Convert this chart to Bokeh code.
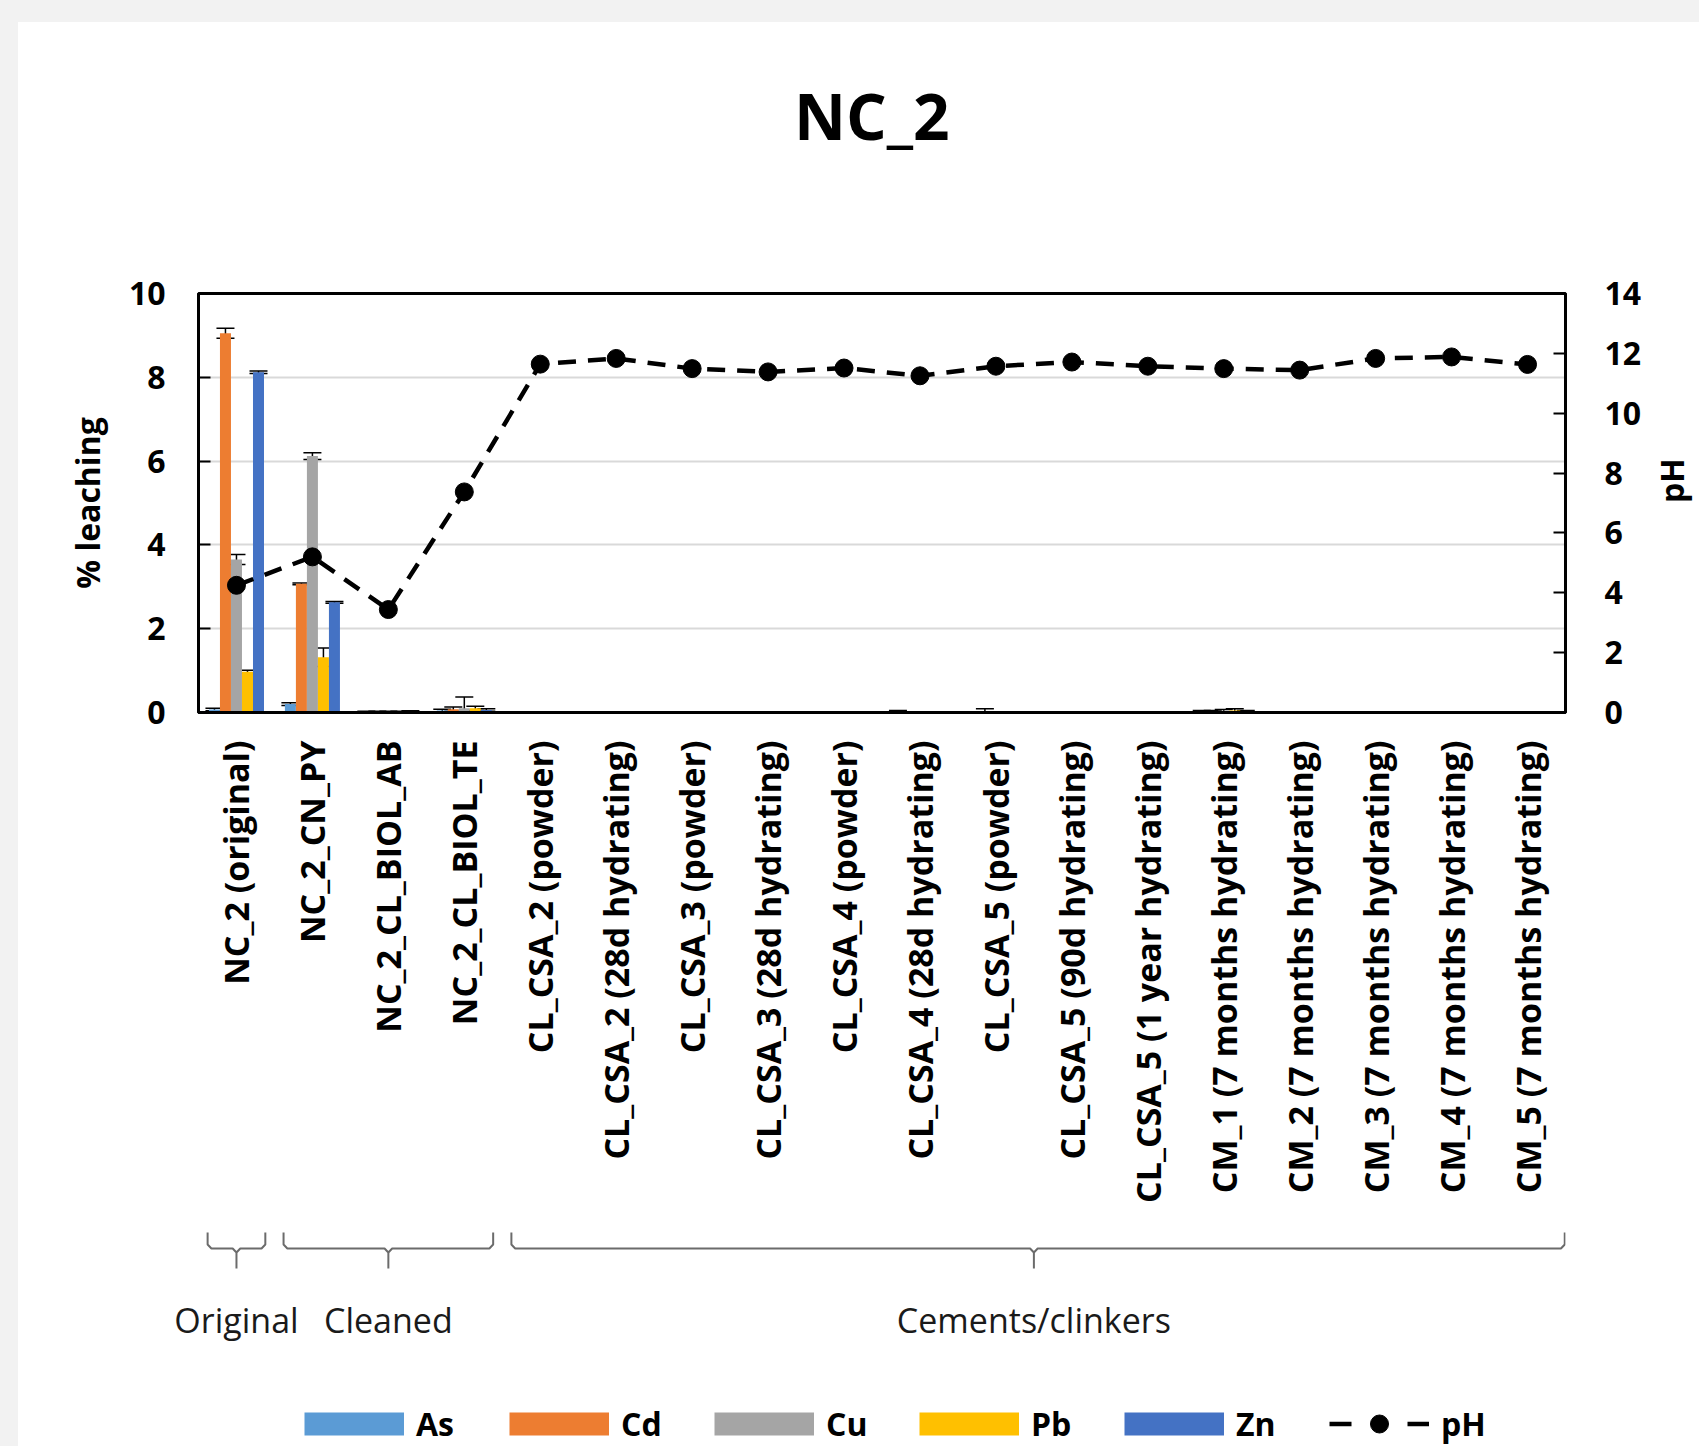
import math
from bokeh.plotting import figure
from bokeh.models import (FactorRange, Range1d, LinearAxis, FixedTicker, ColumnDataSource,
                          Whisker, TeeHead, Legend, LegendItem)
from bokeh.transform import dodge
from bokeh.layouts import column
from bokeh.embed import file_html
from bokeh.resources import INLINE
from bokeh.core.properties import value

# ---------------- data ----------------
title_text = "NC_2"
categories = [
    "NC_2 (original)", "NC_2_CN_PY", "NC_2_CL_BIOL_AB", "NC_2_CL_BIOL_TE",
    "CL_CSA_2 (powder)", "CL_CSA_2 (28d hydrating)", "CL_CSA_3 (powder)",
    "CL_CSA_3 (28d hydrating)", "CL_CSA_4 (powder)", "CL_CSA_4 (28d hydrating)",
    "CL_CSA_5 (powder)", "CL_CSA_5 (90d hydrating)", "CL_CSA_5 (1 year hydrating)",
    "CM_1 (7 months hydrating)", "CM_2 (7 months hydrating)", "CM_3 (7 months hydrating)",
    "CM_4 (7 months hydrating)", "CM_5 (7 months hydrating)",
]
series_names = ["As", "Cd", "Cu", "Pb", "Zn"]
series_colors = ["#5B9BD5", "#ED7D31", "#A5A5A5", "#FFC000", "#4472C4"]

as_vals = [0.07, 0.20, 0.02, 0.05, 0, 0, 0, 0, 0, 0.03, 0, 0, 0, 0.03, 0, 0, 0, 0]
as_err  = [0.03, 0.03, 0.01, 0.03, 0, 0, 0, 0, 0, 0.02, 0, 0, 0, 0.02, 0, 0, 0, 0]
cd_vals = [9.05, 3.07, 0.02, 0.08, 0, 0, 0, 0, 0, 0, 0.02, 0, 0, 0.03, 0, 0, 0, 0]
cd_err  = [0.12, 0.02, 0.01, 0.05, 0, 0, 0, 0, 0, 0, 0.07, 0, 0, 0.02, 0, 0, 0, 0]
cu_vals = [3.65, 6.12, 0.02, 0.10, 0, 0, 0, 0, 0, 0, 0, 0, 0, 0.04, 0, 0, 0, 0]
cu_err  = [0.12, 0.08, 0.01, 0.27, 0, 0, 0, 0, 0, 0, 0, 0, 0, 0.03, 0, 0, 0, 0]
pb_vals = [0.97, 1.32, 0.02, 0.10, 0, 0, 0, 0, 0, 0, 0, 0, 0, 0.05, 0, 0, 0, 0]
pb_err  = [0.04, 0.22, 0.01, 0.05, 0, 0, 0, 0, 0, 0, 0, 0, 0, 0.04, 0, 0, 0, 0]
zn_vals = [8.12, 2.63, 0.03, 0.06, 0, 0, 0, 0, 0, 0, 0, 0, 0, 0.03, 0, 0, 0, 0]
zn_err  = [0.03, 0.02, 0.01, 0.03, 0, 0, 0, 0, 0, 0, 0, 0, 0, 0.02, 0, 0, 0, 0]

ph_vals = [4.25, 5.20, 3.44, 7.37, 11.64, 11.83, 11.49, 11.38, 11.51, 11.25,
           11.57, 11.71, 11.57, 11.49, 11.44, 11.83, 11.88, 11.63]

left_ticks = [0, 2, 4, 6, 8, 10]
right_ticks = [0, 2, 4, 6, 8, 10, 12, 14]

group_names = ["Original", "Cleaned", "Cements/clinkers"]
group_first = [0, 1, 4]
group_last = [0, 3, 17]

# ---------------- layout constants ----------------
FONT = "Open Sans"
FRAME_W, FRAME_H = 1367, 419
BORDER_L, BORDER_R = 180, 134
N = len(categories)
HEAD_H = 241
BR_H, BR_B = 75, 75      # bracket strip: frame height, room for group labels
LEG_H = 91

common = dict(output_backend="svg", toolbar_location=None,
              background_fill_color="white", border_fill_color="white")

# ---------------- header (title) ----------------
p0 = figure(x_range=Range1d(0, 1), y_range=Range1d(0, HEAD_H),
            frame_width=FRAME_W, frame_height=HEAD_H,
            min_border_left=BORDER_L, min_border_right=BORDER_R,
            min_border_top=0, min_border_bottom=0,
            x_axis_location=None, y_axis_location=None,
            outline_line_color=None, **common)
p0.grid.visible = False
p0.text(x=[0.4925], y=[148], text=[title_text], text_align="center",
        text_baseline="alphabetic", text_font=value(FONT), text_font_size="64px",
        text_font_style="bold", text_color="black")

# ---------------- main chart ----------------
p = figure(x_range=FactorRange(*categories), y_range=Range1d(0, 10),
           frame_width=FRAME_W, frame_height=FRAME_H,
           min_border_left=BORDER_L, min_border_right=BORDER_R,
           min_border_top=30, min_border_bottom=493,
           outline_line_color="black", outline_line_width=3, **common)
p.extra_y_ranges = {"ph": Range1d(0, 14)}

bar_w = 0.145
all_vals = [as_vals, cd_vals, cu_vals, pb_vals, zn_vals]
all_errs = [as_err, cd_err, cu_err, pb_err, zn_err]
for k, (name, vals, errs, color) in enumerate(zip(series_names, all_vals, all_errs, series_colors)):
    off = (k - 2) * bar_w
    src = ColumnDataSource(dict(cat=categories, val=vals))
    p.vbar(x=dodge("cat", off, range=p.x_range), top="val", width=bar_w, source=src,
           fill_color=color, line_color=None)
    idx = [i for i, e in enumerate(errs) if e > 0]
    wsrc = ColumnDataSource(dict(
        cat=[categories[i] for i in idx],
        upper=[vals[i] + errs[i] for i in idx],
        lower=[max(vals[i] - errs[i], 0) for i in idx],
    ))
    p.add_layout(Whisker(base=dodge("cat", off, range=p.x_range), upper="upper", lower="lower",
                         source=wsrc, line_color="black", line_width=1.5,
                         upper_head=TeeHead(size=18, line_width=1.5, line_color="black"),
                         lower_head=TeeHead(size=18, line_width=1.5, line_color="black")))

ph_src = ColumnDataSource(dict(cat=categories, ph=ph_vals))
p.line(x="cat", y="ph", source=ph_src, y_range_name="ph", line_color="black",
       line_width=4.5, line_dash="18 12")
p.scatter(x="cat", y="ph", source=ph_src, y_range_name="ph", size=18,
          fill_color="black", line_color="black")

p.yaxis.ticker = FixedTicker(ticks=left_ticks)
p.ygrid.ticker = FixedTicker(ticks=left_ticks)
p.ygrid.grid_line_color = "#d9d9d9"
p.ygrid.grid_line_width = 2
p.xgrid.grid_line_color = None

def style_axis(ax, label_standoff, axis_standoff):
    ax.axis_line_color = "black"
    ax.axis_line_width = 3
    ax.major_tick_in = 12
    ax.major_tick_out = 0
    ax.major_tick_line_width = 2
    ax.major_tick_line_color = "black"
    ax.minor_tick_line_color = None
    ax.major_label_text_font = FONT
    ax.major_label_text_font_size = "32px"
    ax.major_label_text_font_style = "bold"
    ax.major_label_text_color = "black"
    ax.major_label_standoff = label_standoff
    ax.axis_label_text_font = FONT
    ax.axis_label_text_font_size = "32px"
    ax.axis_label_text_font_style = "bold"
    ax.axis_label_text_color = "black"
    ax.axis_label_standoff = axis_standoff

p.yaxis.axis_label = "% leaching"
style_axis(p.yaxis[0], 33, 17)

ax_r = LinearAxis(y_range_name="ph", ticker=FixedTicker(ticks=right_ticks), axis_label="pH")
style_axis(ax_r, 39, 27)
ax_r.axis_label_orientation = math.pi / 2
p.add_layout(ax_r, "right")

xa = p.xaxis[0]
xa.axis_line_color = "black"
xa.axis_line_width = 3
xa.major_tick_in = 0
xa.major_tick_out = 0
xa.major_label_orientation = math.pi / 2
xa.major_label_standoff = 28
xa.major_label_text_font = FONT
xa.major_label_text_font_size = "34px"
xa.major_label_text_font_style = "bold"
xa.major_label_text_color = "black"

# ---------------- bracket strip with group labels ----------------
# x in half-category units so that group centres fall on whole numbers
S = 2
p2 = figure(x_range=Range1d(0, N * S), y_range=Range1d(0, BR_H),
            frame_width=FRAME_W, frame_height=BR_H,
            min_border_left=BORDER_L, min_border_right=BORDER_R,
            min_border_top=0, min_border_bottom=BR_B,
            x_axis_location="below", y_axis_location=None,
            outline_line_color=None, **common)
p2.grid.visible = False

inset = 0.12
d = 0.05
bx, by, mids = [], [], []
for g in range(len(group_names)):
    x0 = group_first[g] + inset
    x1 = group_last[g] + 1 - inset if group_last[g] < N - 1 else N - 0.01
    xm = (group_first[g] + group_last[g] + 1) / 2
    mids.append(int(round(xm * S)))
    bx.append([S * v for v in [x0, x0, x0 + d, xm - d, xm, xm, xm, xm + d, x1 - d, x1, x1]])
    by.append([48, 36, 32, 32, 28, 12, 28, 32, 32, 36, 48])
p2.multi_line(xs=bx, ys=by, line_color="#6b6b6b", line_width=2)

ga = p2.xaxis[0]
ga.ticker = FixedTicker(ticks=mids)
ga.major_label_overrides = {m: name for m, name in zip(mids, group_names)}
ga.axis_line_color = None
ga.major_tick_line_color = None
ga.minor_tick_line_color = None
ga.major_tick_in = 0
ga.major_tick_out = 0
ga.major_label_standoff = 16
ga.major_label_text_font = FONT
ga.major_label_text_font_size = "34px"
ga.major_label_text_color = "#1a1a1a"

# ---------------- legend strip ----------------
p3 = figure(x_range=Range1d(0, N), y_range=Range1d(0, LEG_H),
            frame_width=FRAME_W, frame_height=LEG_H,
            min_border_left=BORDER_L, min_border_right=BORDER_R,
            min_border_top=0, min_border_bottom=0,
            x_axis_location=None, y_axis_location=None,
            outline_line_color=None, **common)
p3.grid.visible = False

# legend proxies (kept off-screen; only their styles are shown in the legend)
off_x = [-1001, -1000]
items = []
for name, color in zip(series_names, series_colors):
    r = p3.line(x=off_x, y=[1, 1], line_color=color, line_width=23, line_cap="butt")
    items.append(LegendItem(label=name, renderers=[r]))
rl = p3.line(x=off_x, y=[1, 1], line_color="black", line_width=4.5, line_dash="22 56")
rs = p3.scatter(x=off_x[:1], y=[1], size=18, fill_color="black", line_color="black")
items.append(LegendItem(label="pH", renderers=[rl, rs]))
legend = Legend(items=items, orientation="horizontal", location=(106, 0),
                glyph_width=100, glyph_height=45, label_standoff=12, label_width=93,
                spacing=0, padding=0, margin=0, border_line_color=None,
                background_fill_alpha=0, label_text_font=FONT,
                label_text_font_size="32px", label_text_font_style="bold",
                label_text_color="black")
p3.add_layout(legend)

inner = column(p0, p, p2, p3, spacing=0, styles={"background-color": "white"})
layout = column(inner, spacing=0,
                styles={"background-color": "#f2f2f2", "padding-left": "18px", "padding-top": "22px"})

open("out.html", "w").write(file_html(layout, INLINE))
